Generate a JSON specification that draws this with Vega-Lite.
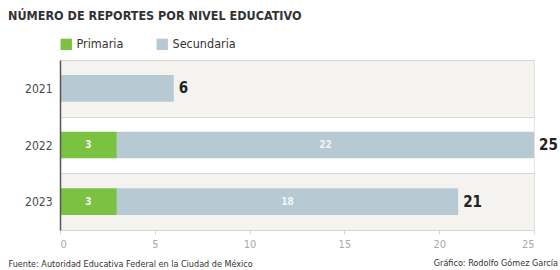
{
  "$schema": "https://vega.github.io/schema/vega-lite/v6.json",
  "width": 474,
  "height": 170,
  "autosize": {"type": "none"},
  "padding": {"left": 60, "top": 60, "right": 26, "bottom": 40},
  "background": "white",
  "title": {
    "text": "NÚMERO DE REPORTES POR NIVEL EDUCATIVO",
    "anchor": "start",
    "frame": "bounds",
    "font": "DejaVu Sans Condensed",
    "fontSize": 12.5,
    "fontWeight": "bold",
    "color": "#333333",
    "offset": 16
  },
  "config": {
    "view": {"stroke": null},
    "font": "DejaVu Sans Condensed"
  },
  "datasets": {
    "rows": [
      {"year": "2021"},
      {"year": "2022"},
      {"year": "2023"}
    ],
    "segs": [
      {"year": "2021", "nivel": "Secundaria", "n": 6},
      {"year": "2022", "nivel": "Primaria", "n": 3},
      {"year": "2022", "nivel": "Secundaria", "n": 22},
      {"year": "2023", "nivel": "Primaria", "n": 3},
      {"year": "2023", "nivel": "Secundaria", "n": 18}
    ],
    "totals": [
      {"year": "2021", "total": 6},
      {"year": "2022", "total": 25},
      {"year": "2023", "total": 21}
    ],
    "credit": [
      {"year": "2023", "x": 25, "text": "Gráfico: Rodolfo Gómez García"}
    ]
  },
  "encoding": {
    "y": {
      "field": "year",
      "type": "nominal",
      "scale": {"domain": ["2021", "2022", "2023"], "paddingInner": 0, "paddingOuter": 0},
      "axis": {
        "title": null,
        "ticks": false,
        "tickBand": "extent",
        "grid": true,
        "gridColor": "#d9d6d0",
        "domainColor": "#555555",
        "domainWidth": 1.5,
        "labelColor": "#4a4a4a",
        "labelFontSize": 12,
        "labelPadding": 8
      }
    }
  },
  "layer": [
    {
      "data": {"name": "rows"},
      "mark": {"type": "rect"},
      "encoding": {
        "x": {"datum": 0, "type": "quantitative"},
        "x2": {"datum": 25},
        "fill": {
          "condition": {"test": "datum.year !== '2022'", "value": "#f4f3ef"},
          "value": "#ffffff"
        }
      }
    },
    {
      "data": {"name": "segs"},
      "mark": {"type": "bar", "height": {"band": 0.47}},
      "encoding": {
        "x": {
          "field": "n",
          "type": "quantitative",
          "stack": "zero",
          "scale": {"domain": [0, 25], "nice": false},
          "axis": {
            "values": [0, 5, 10, 15, 20, 25],
            "grid": true,
            "gridColor": "#e6e4df",
            "domainColor": "#d9d6d0",
            "tickColor": "#d9d6d0",
            "tickSize": 4,
            "labelColor": "#aaaaaa",
            "labelFontSize": 11,
            "labelPadding": 4,
            "title": "Fuente: Autoridad Educativa Federal en la Ciudad de México",
            "titleAnchor": "start",
            "titleAlign": "left",
            "titleBaseline": "middle",
            "titleX": -52,
            "titleY": 33,
            "titleFontSize": 9,
            "titleFontWeight": "normal",
            "titleColor": "#333333"
          }
        },
        "color": {
          "field": "nivel",
          "type": "nominal",
          "scale": {"domain": ["Primaria", "Secundaria"], "range": ["#7cc242", "#b7cad4"]},
          "legend": {
            "title": null,
            "orient": "top",
            "direction": "horizontal",
            "symbolType": "square",
            "symbolSize": 130,
            "symbolStrokeWidth": 0,
            "labelFontSize": 12.5,
            "labelColor": "#333333",
            "columnPadding": 32,
            "offset": 9,
            "padding": 0
          }
        },
        "order": {"field": "nivel", "sort": "ascending"}
      }
    },
    {
      "data": {"name": "segs"},
      "transform": [
        {"filter": "datum.year !== '2021'"},
        {"stack": "n", "groupby": ["year"], "sort": [{"field": "nivel", "order": "ascending"}], "as": ["s0", "s1"]},
        {"calculate": "(datum.s0 + datum.s1) / 2", "as": "mid"}
      ],
      "mark": {"type": "text", "color": "#f2f5f7", "fontSize": 10, "fontWeight": "bold", "align": "center", "baseline": "middle"},
      "encoding": {
        "x": {"field": "mid", "type": "quantitative"},
        "text": {"field": "n", "type": "quantitative"}
      }
    },
    {
      "data": {"name": "totals"},
      "mark": {"type": "text", "align": "left", "baseline": "middle", "dx": 5, "fontSize": 15, "fontWeight": "bold", "color": "#222222"},
      "encoding": {
        "x": {"field": "total", "type": "quantitative"},
        "text": {"field": "total", "type": "quantitative"}
      }
    },
    {
      "data": {"name": "credit"},
      "mark": {"type": "text", "align": "right", "baseline": "middle", "dx": 24, "dy": 61, "fontSize": 9, "color": "#333333"},
      "encoding": {
        "x": {"field": "x", "type": "quantitative"},
        "text": {"field": "text"}
      }
    }
  ]
}
